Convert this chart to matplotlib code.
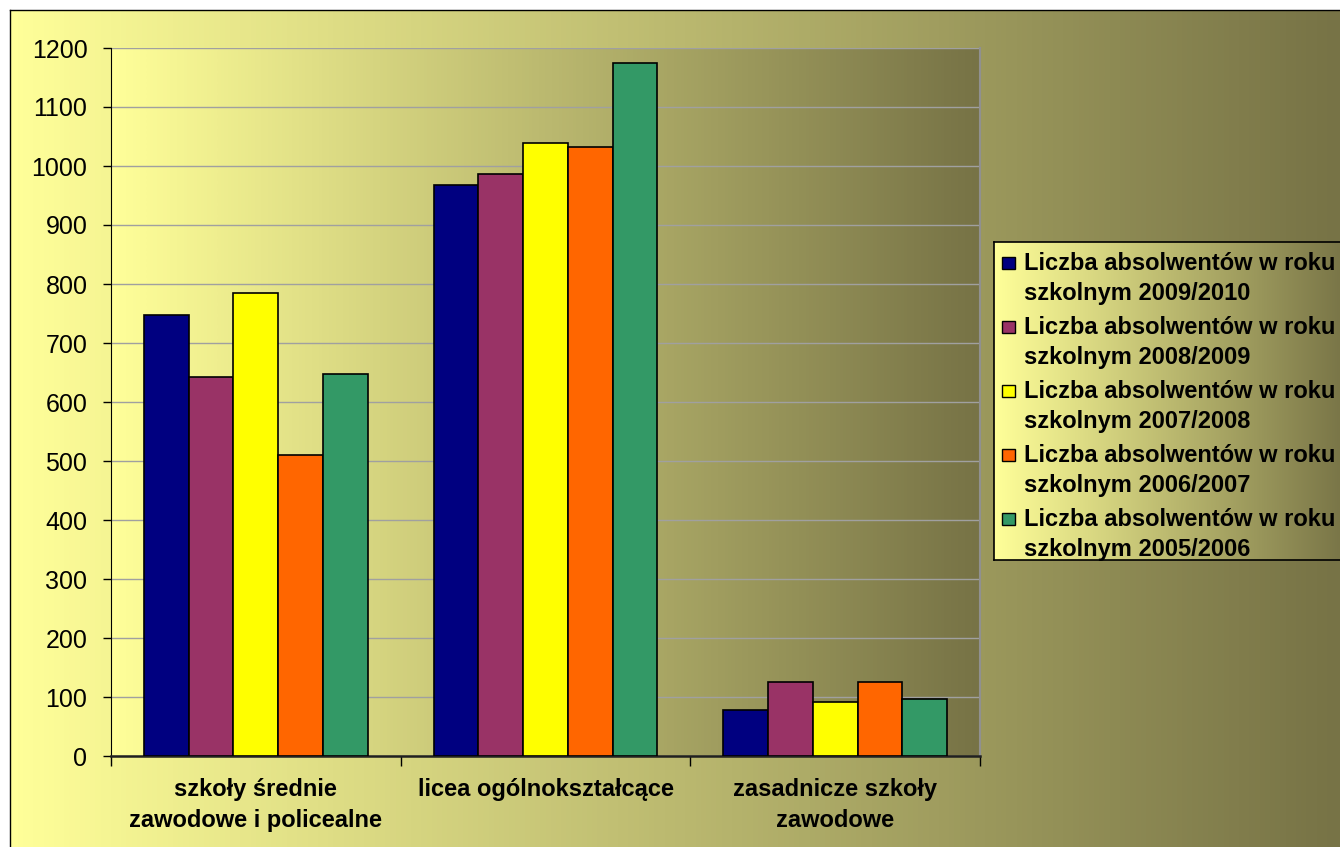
import matplotlib.pyplot as plt
import numpy as np
from matplotlib.colors import LinearSegmentedColormap
from matplotlib.patches import Rectangle

categories = ["szkoły średnie\nzawodowe i policealne",
              "licea ogólnokształcące",
              "zasadnicze szkoły\nzawodowe"]
series_labels = ["Liczba absolwentów w roku\nszkolnym 2009/2010",
                 "Liczba absolwentów w roku\nszkolnym 2008/2009",
                 "Liczba absolwentów w roku\nszkolnym 2007/2008",
                 "Liczba absolwentów w roku\nszkolnym 2006/2007",
                 "Liczba absolwentów w roku\nszkolnym 2005/2006"]
v_2009_2010 = [748, 967, 78]
v_2008_2009 = [642, 986, 126]
v_2007_2008 = [784, 1039, 92]
v_2006_2007 = [511, 1033, 126]
v_2005_2006 = [648, 1175, 97]
series = [v_2009_2010, v_2008_2009, v_2007_2008, v_2006_2007, v_2005_2006]
colors = ["#000080", "#993366", "#FFFF00", "#FF6600", "#339966"]
y_ticks = np.arange(0, 1201, 100)

W, H = 1340, 847
plt.rcParams['font.family'] = ['Liberation Sans', 'DejaVu Sans']

grad_cmap = LinearSegmentedColormap.from_list("olive", ["#FFFF99", "#777346"])
grad = np.linspace(0, 1, 256).reshape(1, -1)


def gradient_axes(fig, rect, zorder):
    a = fig.add_axes(rect, zorder=zorder)
    a.imshow(grad, cmap=grad_cmap, aspect='auto', extent=[0, 1, 0, 1],
             interpolation='bilinear')
    a.set_xlim(0, 1)
    a.set_ylim(0, 1)
    a.set_xticks([])
    a.set_yticks([])
    return a


def main():
    fig = plt.figure(figsize=(W / 100, H / 100), dpi=100)

    # chart area background with border (left/top visible)
    bg = gradient_axes(fig, [10 / W, 0, 1 - 10 / W, 1 - 10 / H], -10)
    for side in ['right', 'bottom']:
        bg.spines[side].set_visible(False)
    for side in ['left', 'top']:
        bg.spines[side].set_color('black')
        bg.spines[side].set_linewidth(1.0)

    ax = fig.add_axes([111 / W, 1 - 756 / H, (980 - 111) / W, (756 - 48) / H])
    ax.imshow(grad, cmap=grad_cmap, aspect='auto', extent=[0, 1, 0, 1],
              transform=ax.transAxes, interpolation='bilinear', zorder=0)

    n = len(series)
    x = np.arange(len(categories))
    width = 0.772 / n
    for i, (vals, col) in enumerate(zip(series, colors)):
        ax.bar(x + (i - (n - 1) / 2) * width, vals, width=width, color=col,
               edgecolor='black', linewidth=1.2, zorder=3)

    ax.set_xlim(-0.5, len(categories) - 0.5)
    ax.set_ylim(0, 1200)
    ax.set_yticks(y_ticks)
    ax.set_yticklabels([str(t) for t in y_ticks], fontsize=18)
    ax.tick_params(axis='y', length=6, width=1, pad=11)
    ax.yaxis.grid(True, color='#A0A0A0', linewidth=1, zorder=1)
    ax.set_axisbelow(True)

    ax.set_xticks(x)
    ax.set_xticklabels(categories, fontsize=17, fontweight='bold',
                       linespacing=1.45)
    ax.tick_params(axis='x', which='major', length=0, pad=16)
    ax.set_xticks(np.arange(len(categories) + 1) - 0.5, minor=True)
    ax.tick_params(axis='x', which='minor', length=7, width=1)

    ax.spines['left'].set_color('black')
    ax.spines['bottom'].set_color('#202020')
    ax.spines['bottom'].set_linewidth(1.8)
    ax.spines['top'].set_visible(False)
    ax.spines['right'].set_color('#909090')
    ax.spines['right'].set_linewidth(1.5)

    # legend box with its own gradient
    lx0, ly0, lx1, ly1 = 994, 242, 1348, 560
    leg = gradient_axes(fig, [lx0 / W, 1 - ly1 / H, (lx1 - lx0) / W,
                              (ly1 - ly0) / H], 5)
    leg.set_xlim(0, lx1 - lx0)
    leg.set_ylim(ly1 - ly0, 0)
    leg.images[0].set_extent([0, lx1 - lx0, ly1 - ly0, 0])
    for s in leg.spines.values():
        s.set_color('black')
        s.set_linewidth(1.2)
    for i, (lab, col) in enumerate(zip(series_labels, colors)):
        top = 15 + i * 64
        leg.add_patch(Rectangle((8, top), 13, 12, facecolor=col,
                                edgecolor='black', linewidth=1.0))
        for j, line in enumerate(lab.split('\n')):
            leg.text(30, top + 6 + j * 30, line, fontsize=17,
                     fontweight='bold', va='center', ha='left')

    fig.savefig("out.png", dpi=100)


if __name__ == '__main__':
    main()
